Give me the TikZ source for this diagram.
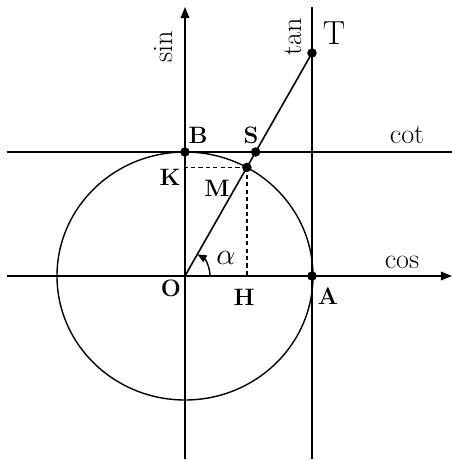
\documentclass[tikz,border=0pt]{standalone}
\usepackage{tikz}
\usetikzlibrary{arrows.meta, calc, intersections}

\begin{document}
\begin{tikzpicture}[
    axis/.style={line width=0.9pt, -{Triangle[length=2.2mm, width=1.7mm]}},
    refline/.style={line width=0.9pt},
    guide/.style={line width=0.8pt, dash pattern=on 2.4pt off 1.8pt},
    dot/.style={circle, fill, inner sep=0pt, minimum size=1.9mm},
    ptlabel/.style={font=\fontsize{13.5}{16}\selectfont\bfseries},
    fnlabel/.style={font=\fontsize{16}{19}\selectfont},
]
\useasboundingbox (-3.7,-3.68) rectangle (5.34,5.52);

% Key points
\coordinate (O) at (0,0);
\coordinate (A) at (2.54,0);
\coordinate (B) at (0,2.48);
\coordinate (T) at (2.54,4.46);

% Unit circle
\draw[line width=0.8pt, name path=circ] (O) ellipse [x radius=2.56, y radius=2.48];

% Axes
\coordinate (xL) at (-3.56,0);
\coordinate (xR) at (5.34,0);
\coordinate (yB) at (0,-3.66);
\coordinate (yT) at (0,5.38);
\draw[axis] (xL) -- (xR);
\draw[axis] (yB) -- (yT);

% Tangent and cotangent lines
\coordinate (tB) at (2.54,-3.66);
\coordinate (tT) at (2.54,5.38);
\coordinate (cL) at (-3.56,2.48);
\coordinate (cR) at (5.34,2.48);
\draw[refline] (tB) -- (tT);
\draw[refline, name path=cotline] (cL) -- (cR);

% Ray OT
\draw[refline, name path=ray] (O) -- (T);
\path[name intersections={of=circ and ray, by=M}];
\path[name intersections={of=cotline and ray, by=S}];

% Projections of M
\coordinate (K) at (M -| O);
\coordinate (H) at (M |- O);
\draw[guide] (M) -- (K);
\draw[guide] (M) -- (H);

% Angle alpha
\draw[line width=0.8pt, -{Triangle[length=1.8mm, width=1.5mm]}] (0.5,0) arc[start angle=0, end angle=60, radius=0.5];

% Points
\foreach \p in {B,S,M,A,T}
    \node[dot] (d\p) at (\p) {};

% Labels
\node[ptlabel] (lB) at (0.26,2.82) {B};
\node[ptlabel] (lS) at (1.32,2.82) {S};
\node[ptlabel] (lK) at (-0.30,1.98) {K};
\node[ptlabel] (lM) at (0.64,1.76) {M};
\node[ptlabel] (lO) at (-0.28,-0.24) {O};
\node[ptlabel] (lH) at (1.18,-0.42) {H};
\node[ptlabel] (lA) at (2.86,-0.40) {A};
\node[font=\fontsize{17}{20}\selectfont] (lalpha) at (0.82,0.36) {$\alpha$};
\node[font=\fontsize{19}{22}\selectfont] (lT) at (2.98,4.86) {T};
\node[fnlabel] (lcos) at (4.34,0.28) {cos};
\node[fnlabel] (lcot) at (4.44,2.82) {cot};
\node[fnlabel, rotate=90] (ltan) at (2.16,4.78) {tan};
\node[fnlabel, rotate=90] (lsin) at (-0.42,4.58) {sin};

\end{tikzpicture}
\end{document}
